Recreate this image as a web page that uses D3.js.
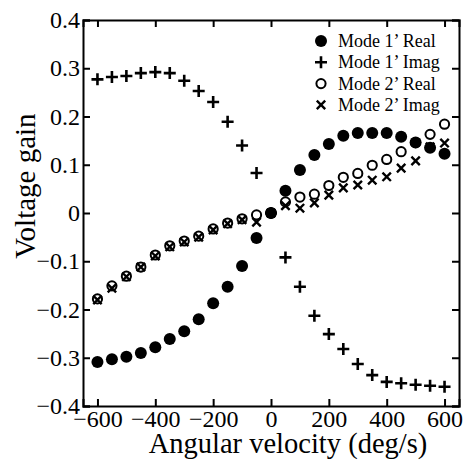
<!DOCTYPE html>
<html>
<head>
<meta charset="utf-8">
<script src="https://cdn.jsdelivr.net/npm/d3@7"></script>
<style>
  body { margin: 0; background: #fff; }
  svg text { font-family: "Liberation Serif", "Times New Roman", Times, "DejaVu Serif", serif; }
</style>
</head>
<body>
<div id="chart"></div>
<script>
// angular velocity (deg/s)
var velocity = [-600, -550, -500, -450, -400, -350, -300, -250, -200, -150, -100, -50, 0,
                50, 100, 150, 200, 250, 300, 350, 400, 450, 500, 550, 600];

var mode1Real = [-0.309, -0.303, -0.298, -0.290, -0.278, -0.261, -0.245, -0.220, -0.187, -0.153, -0.110, -0.052, 0.0,
                 0.046, 0.089, 0.120, 0.143, 0.160, 0.166, 0.166, 0.166, 0.158, 0.146, 0.135, 0.123];
var mode1Imag = [0.277, 0.282, 0.284, 0.290, 0.292, 0.290, 0.274, 0.253, 0.230, 0.189, 0.140, 0.083, 0.0,
                 -0.092, -0.153, -0.213, -0.251, -0.282, -0.313, -0.336, -0.350, -0.353, -0.356, -0.358, -0.360];
var mode2Real = [-0.178, -0.151, -0.131, -0.112, -0.087, -0.068, -0.058, -0.048, -0.033, -0.021, -0.012, -0.004, 0.0,
                 0.023, 0.033, 0.039, 0.057, 0.074, 0.082, 0.099, 0.111, 0.127, 0.146, 0.163, 0.184];
var mode2Imag = [-0.180, -0.156, -0.132, -0.112, -0.089, -0.070, -0.060, -0.050, -0.035, -0.022, -0.014, -0.019, 0.0,
                 0.015, 0.010, 0.021, 0.037, 0.052, 0.058, 0.068, 0.075, 0.093, 0.108, 0.137, 0.145];

var seriesNames = ["Mode 1\u2019 Real", "Mode 1\u2019 Imag", "Mode 2\u2019 Real", "Mode 2\u2019 Imag"];
var xTicks = [-600, -400, -200, 0, 200, 400, 600];
var yTicks = [-0.4, -0.3, -0.2, -0.1, 0, 0.1, 0.2, 0.3, 0.4];

var serif = '"Liberation Serif", "Times New Roman", Times, "DejaVu Serif", serif';

var width = 472, height = 463,
    margin = {top: 20, right: 13, bottom: 57, left: 83};
var w = width - margin.left - margin.right,
    h = height - margin.top - margin.bottom;

var svg = d3.select("#chart").append("svg")
    .attr("width", width)
    .attr("height", height);

var g = svg.append("g")
    .attr("transform", "translate(" + margin.left + "," + margin.top + ")");

var x = d3.scaleLinear().domain([-650, 650]).range([0, w]),
    y = d3.scaleLinear().domain([-0.4, 0.4]).range([h, 0]);

var yFmt = function(d){ return d === 0 ? "0" : d3.format(".1f")(d); };

// axes, ticks pointing inward on all four sides
var tick = 7;
g.append("g").attr("class", "axis")
    .attr("transform", "translate(0," + h + ")")
    .call(d3.axisBottom(x).tickValues(xTicks).tickSize(-tick).tickPadding(4).tickFormat(d3.format("d")));
g.append("g").attr("class", "axis")
    .call(d3.axisLeft(y).tickValues(yTicks).tickSize(-tick).tickPadding(3).tickFormat(yFmt));
g.append("g").attr("class", "axis")
    .call(d3.axisTop(x).tickValues(xTicks).tickSize(-tick).tickFormat(""));
g.append("g").attr("class", "axis")
    .attr("transform", "translate(" + w + ",0)")
    .call(d3.axisRight(y).tickValues(yTicks).tickSize(-tick).tickFormat(""));

g.selectAll(".axis").attr("font-family", serif).attr("font-size", 24);
g.selectAll(".axis path").attr("stroke", "#000").attr("stroke-width", 2);
g.selectAll(".axis line").attr("stroke", "#000").attr("stroke-width", 2);
g.selectAll(".axis text").attr("fill", "#000");

// markers
var plusPath = "M-6,0H6M0,-6V6",
    crossPath = "M-4.2,-4.2L4.2,4.2M-4.2,4.2L4.2,-4.2";

function pts(vals){
    return vals.map(function(v, i){ return {x: velocity[i], y: v}; });
}

g.append("g").selectAll("circle")
    .data(pts(mode1Real)).enter().append("circle")
    .attr("cx", function(d){ return x(d.x); })
    .attr("cy", function(d){ return y(d.y); })
    .attr("r", 6)
    .attr("fill", "#000");

g.append("g").selectAll("path")
    .data(pts(mode1Imag)).enter().append("path")
    .attr("d", plusPath)
    .attr("transform", function(d){ return "translate(" + x(d.x) + "," + y(d.y) + ")"; })
    .attr("stroke", "#000").attr("stroke-width", 2.6).attr("fill", "none");

g.append("g").selectAll("circle")
    .data(pts(mode2Real)).enter().append("circle")
    .attr("cx", function(d){ return x(d.x); })
    .attr("cy", function(d){ return y(d.y); })
    .attr("r", 4.6)
    .attr("fill", "none")
    .attr("stroke", "#000").attr("stroke-width", 2);

g.append("g").selectAll("path")
    .data(pts(mode2Imag)).enter().append("path")
    .attr("d", crossPath)
    .attr("transform", function(d){ return "translate(" + x(d.x) + "," + y(d.y) + ")"; })
    .attr("stroke", "#000").attr("stroke-width", 2.4).attr("fill", "none");

// legend
var legend = svg.append("g").attr("transform", "translate(321,41)");
var rows = legend.selectAll("g").data(seriesNames).enter().append("g")
    .attr("transform", function(d, i){ return "translate(0," + (i * 21.3) + ")"; });

rows.each(function(d, i){
    var r = d3.select(this);
    if(i == 0) r.append("circle").attr("r", 6).attr("fill", "#000");
    if(i == 1) r.append("path").attr("d", plusPath).attr("stroke", "#000").attr("stroke-width", 2.6);
    if(i == 2) r.append("circle").attr("r", 4.6).attr("fill", "none").attr("stroke", "#000").attr("stroke-width", 2);
    if(i == 3) r.append("path").attr("d", crossPath).attr("stroke", "#000").attr("stroke-width", 2.4);
});
rows.append("text")
    .attr("x", 17)
    .attr("y", 6)
    .attr("font-family", serif)
    .attr("font-size", 18)
    .text(function(d){ return d; });

// axis titles
svg.append("text")
    .attr("x", 288)
    .attr("y", 453)
    .attr("text-anchor", "middle")
    .attr("font-family", serif)
    .attr("font-size", 28.5)
    .text("Angular velocity (deg/s)");

svg.append("text")
    .attr("transform", "translate(35,186) rotate(-90)")
    .attr("text-anchor", "middle")
    .attr("font-family", serif)
    .attr("font-size", 29)
    .text("Voltage gain");
</script>
</body>
</html>
